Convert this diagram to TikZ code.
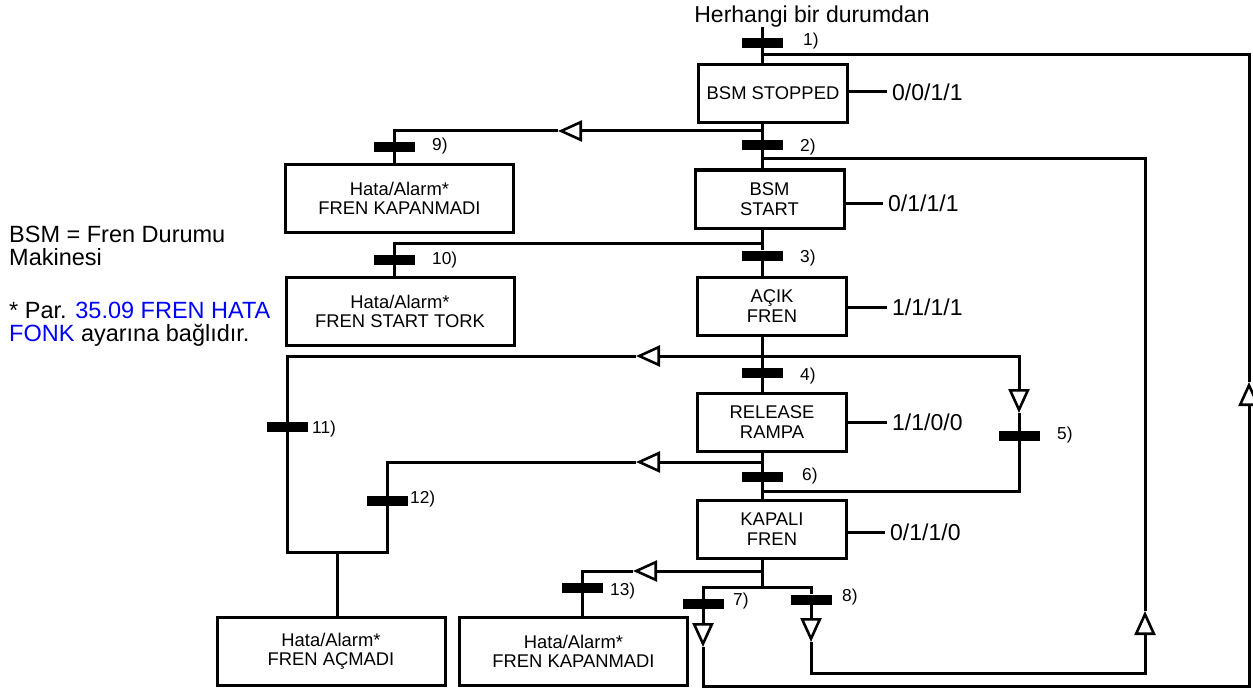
\documentclass[tikz,border=0pt]{standalone}
\usepackage{fontspec}
\setmainfont{Liberation Sans}
\usetikzlibrary{arrows.meta}
\begin{document}
\begin{tikzpicture}[x=1pt,y=-1pt,
  conn/.style={line width=3pt},
  mid/.style={conn,-{Triangle[open,length=24pt,width=21pt,line width=2.6pt]}},
  state/.style={draw,line width=3pt,minimum width=149pt,minimum height=58pt,inner sep=0pt,align=center,font=\fontsize{18.4}{20}\selectfont},
  fault/.style={state,minimum width=228pt,minimum height=68pt,font=\fontsize{18.4}{18.5}\selectfont},
  tbar/.style={fill=black,minimum width=41pt,minimum height=10pt,inner sep=0pt},
  tlabel/.style={anchor=west,inner sep=0pt,font=\fontsize{17.3}{20}\selectfont},
  code/.style={anchor=west,inner sep=0pt,font=\fontsize{23}{26}\selectfont},
  note/.style={anchor=north west,inner sep=0pt,align=left,font=\fontsize{23.5}{23}\selectfont}]
\useasboundingbox (0,0) rectangle (1253,690);

% header and notes
\node[anchor=base,inner sep=0pt,font=\fontsize{23}{26}\selectfont] (any) at (812,22.5) {Herhangi bir durumdan};
\node[note] (bsmnote) at (9,226) {BSM = Fren Durumu\\Makinesi};
\node[note] (parnote) at (9,302) {* Par. \textcolor{blue}{35.09 FREN HATA}\\\textcolor{blue}{FONK} ayarına bağlıdır.};

% main states
\node[state] (s0) at (773,93.5) {BSM STOPPED};
\node[state] (s1) at (769.5,199) {BSM\\START};
\node[state] (s2) at (772,306) {AÇIK\\FREN};
\node[state] (s3) at (772,422) {RELEASE\\RAMPA};
\node[state] (s4) at (772,529.5) {KAPALI\\FREN};

% fault states
\node[fault] (e9) at (399.5,198.5) {Hata/Alarm*\\FREN KAPANMADI};
\node[fault] (e10) at (400,311.5) {Hata/Alarm*\\FREN START TORK};
\node[fault] (e11) at (331,651.5) {Hata/Alarm*\\FREN AÇMADI};
\node[fault] (e13) at (573.5,651.5) {Hata/Alarm*\\FREN KAPANMADI};

% output codes
\node[code] (c0) at (892,92) {0/0/1/1};
\node[code] (c1) at (888,203) {0/1/1/1};
\node[code] (c2) at (892,307) {1/1/1/1};
\node[code] (c3) at (892,422) {1/1/0/0};
\node[code] (c4) at (890,532) {0/1/1/0};
\foreach \s/\c in {s0/c0,s1/c1,s2/c2,s3/c3,s4/c4}
  \draw[conn] (\s.east |- \c.west) -- ([xshift=-5pt]\c.west);

% transitions
\node[tbar] (t1) at (762,43) {};
\node[tbar] (t2) at (762,145) {};
\node[tbar] (t3) at (762,255.5) {};
\node[tbar] (t4) at (762,373) {};
\node[tbar] (t5) at (1019,436) {};
\node[tbar] (t6) at (762,477) {};
\node[tbar] (t7) at (703,604) {};
\node[tbar] (t8) at (811,599.5) {};
\node[tbar] (t9) at (394,147) {};
\node[tbar] (t10) at (394,260) {};
\node[tbar] (t11) at (287,427) {};
\node[tbar] (t12) at (387,501) {};
\node[tbar] (t13) at (582,588) {};

\node[tlabel] (l1) at (803,41) {1)};
\node[tlabel] (l2) at (800,147) {2)};
\node[tlabel] (l3) at (800,258) {3)};
\node[tlabel] (l4) at (800,376) {4)};
\node[tlabel] (l5) at (1057,435) {5)};
\node[tlabel] (l6) at (802,476) {6)};
\node[tlabel] (l7) at (733,601) {7)};
\node[tlabel] (l8) at (842,597) {8)};
\node[tlabel] (l9) at (432,146) {9)};
\node[tlabel] (l10) at (432,260) {10)};
\node[tlabel] (l11) at (312,429) {11)};
\node[tlabel] (l12) at (410,499) {12)};
\node[tlabel] (l13) at (610,591) {13)};

% junctions and arrow tips
\coordinate (top) at (762,27);
\coordinate (j1) at (762,55);
\coordinate (j9) at (762,131);
\coordinate (j2) at (762,159);
\coordinate (j10) at (762,243);
\coordinate (j4) at (762,356);
\coordinate (j12) at (762,462);
\coordinate (j6) at (762,491);
\coordinate (j13) at (762,571);
\coordinate (split) at (762,587);
\coordinate (a9) at (558,131);
\coordinate (a11) at (636,356);
\coordinate (a12) at (636,462);
\coordinate (a13) at (633,571);
\coordinate (a5) at (1019,413);
\coordinate (a7) at (703,647);
\coordinate (a8) at (811,642);
\coordinate (aR) at (1249,382);
\coordinate (aI) at (1145,611);
\coordinate (m11) at (287,552);
\coordinate (m12) at (387,552);
\coordinate (mj) at (337,552);

% main sequence
\draw[conn] (top) -- (t1);
\draw[conn] (t1) -- (t1 |- s0.north);
\draw[conn] (t2 |- s0.south) -- (t2);
\draw[conn] (t2) -- (t2 |- s1.north);
\draw[conn] (t3 |- s1.south) -- (t3);
\draw[conn] (t3) -- (t3 |- s2.north);
\draw[conn] (t4 |- s2.south) -- (t4);
\draw[conn] (t4) -- (t4 |- s3.north);
\draw[conn] (t6 |- s3.south) -- (t6);
\draw[conn] (t6) -- (t6 |- s4.north);
\draw[conn] (split |- s4.south) -- (split);
\draw[conn] (t7) -- (t7 |- split) -- (t8 |- split) -- (t8);

% 7) back to BSM STOPPED
\draw[mid] (t7) -- (a7);
\draw[mid] (a7) -- (703,686) -- (1249,686) -- (aR);
\draw[conn] (aR) -- (1249,55) -- (j1);

% 8) back to BSM START
\draw[mid] (t8) -- (a8);
\draw[mid] (a8) -- (811,673) -- (1145,673) -- (aI);
\draw[conn] (aI) -- (1145,159) -- (j2);

% 9) and 10)
\draw[mid] (j9) -- (a9);
\draw[conn] (a9) -- (t9 |- a9) -- (t9);
\draw[conn] (t9) -- (t9 |- e9.north);
\draw[conn] (j10) -- (t10 |- j10) -- (t10);
\draw[conn] (t10) -- (t10 |- e10.north);

% 5) back to KAPALI FREN
\draw[mid] (j4) -- (1019,356) -- (a5);
\draw[conn] (a5) -- (t5);
\draw[conn] (t5) -- (1019,491) -- (j6);

% 11) and 12) to FREN AÇMADI
\draw[mid] (j4) -- (a11);
\draw[conn] (a11) -- (t11 |- a11) -- (t11);
\draw[mid] (j12) -- (a12);
\draw[conn] (a12) -- (t12 |- a12) -- (t12);
\draw[conn] (t11) -- (m11) -- (m12) -- (t12);
\draw[conn] (mj) -- (mj |- e11.north);

% 13)
\draw[mid] (j13) -- (a13);
\draw[conn] (a13) -- (t13 |- a13) -- (t13);
\draw[conn] (t13) -- (t13 |- e13.north);
\end{tikzpicture}
\end{document}
